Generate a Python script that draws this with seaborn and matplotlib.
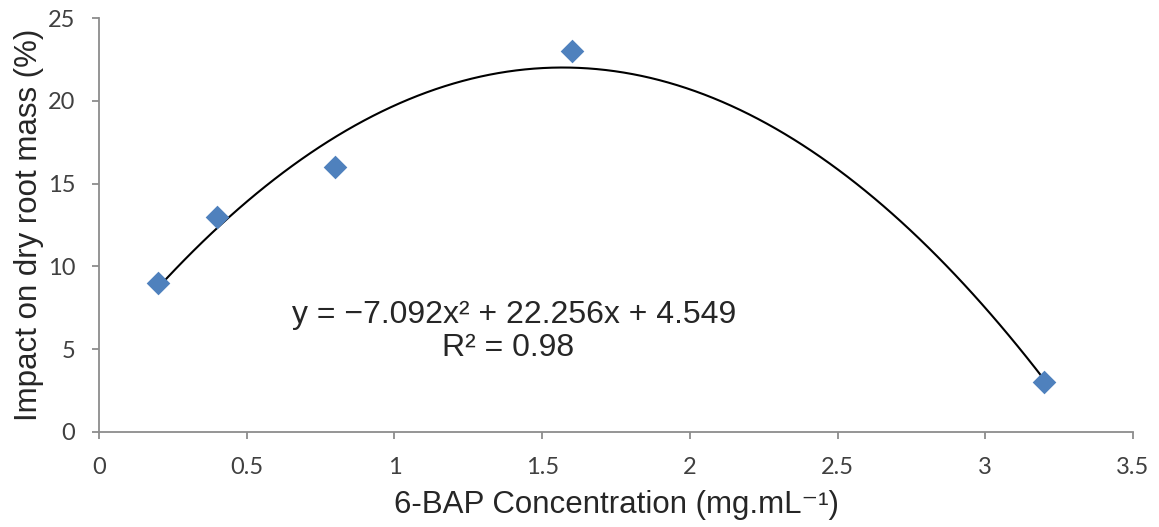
import numpy as np
import pandas as pd
import matplotlib
matplotlib.use("Agg")
import matplotlib.pyplot as plt
import seaborn as sns

# Data
concentration = [0.2, 0.4, 0.8, 1.6, 3.2]
impact = [9, 13, 16, 23, 3]
x_ticks = [0, 0.5, 1, 1.5, 2, 2.5, 3, 3.5]
x_tick_labels = ["0", "0.5", "1", "1.5", "2", "2.5", "3", "3.5"]
y_ticks = [0, 5, 10, 15, 20, 25]
equation_text = "y = \u22127.092x\u00b2 + 22.256x + 4.549"
r2_text = "R\u00b2 = 0.98"

df = pd.DataFrame({"conc": concentration, "impact": impact})

sns.set_theme(style="white")
plt.rcParams["font.family"] = ["Liberation Sans", "DejaVu Sans"]

fig = plt.figure(figsize=(11.59, 5.27), dpi=100)
ax = fig.add_axes([0.0854, 0.1803, 0.8922, 0.7855])

sns.regplot(data=df, x="conc", y="impact", order=2, ci=None, scatter=False,
            line_kws={"color": "black", "linewidth": 1.5}, ax=ax)
sns.scatterplot(data=df, x="conc", y="impact", marker="D", s=145,
                color="#4F81BD", edgecolor="#4F81BD", linewidth=0, ax=ax, zorder=3)

ax.set_xlim(0, 3.5)
ax.set_ylim(0, 25)
ax.set_xticks(x_ticks)
ax.set_xticklabels(x_tick_labels)
ax.set_yticks(y_ticks)

for s in ["top", "right"]:
    ax.spines[s].set_visible(False)
for s in ["left", "bottom"]:
    ax.spines[s].set_color("#8C8C8C")
    ax.spines[s].set_linewidth(1.3)

ax.tick_params(axis="both", which="major", direction="out", length=5, width=1.3,
               color="#8C8C8C", labelcolor="#404040", labelsize=17, bottom=True, left=True)
ax.tick_params(axis="x", pad=13)
ax.tick_params(axis="y", pad=12)
for lab in ax.get_xticklabels() + ax.get_yticklabels():
    lab.set_fontfamily(["Lato", "DejaVu Sans"])

ax.set_xlabel("6-BAP Concentration (mg.mL\u207b\u00b9)", fontsize=22.5, color="#262626", labelpad=9)
ax.set_ylabel("Impact on dry root mass (%)", fontsize=22.5, color="#262626", labelpad=3)

ax.text(1.405, 7.07, equation_text, fontsize=23, color="#262626", ha="center", va="center")
ax.text(1.384, 5.07, r2_text, fontsize=23, color="#262626", ha="center", va="center")

fig.savefig("out.png", dpi=100)
